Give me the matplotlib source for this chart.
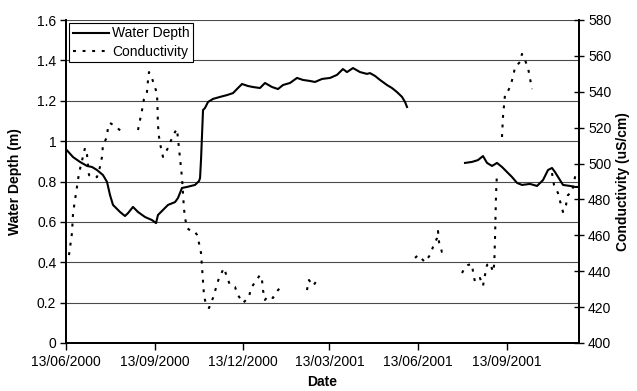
import numpy as np
import matplotlib
matplotlib.use("Agg")
import matplotlib.pyplot as plt
import matplotlib.dates as mdates
from matplotlib.ticker import FuncFormatter
from datetime import datetime

plt.rcParams["font.family"] = ["Liberation Sans", "DejaVu Sans"]

# Days since 13/06/2000 and water depth (m); NaN marks missing records
depth_day = [0.7, 7.3, 14.5, 21.8, 26.9, 32.1, 38.3, 42.5, 45.6, 48.7, 56.0, 61.1,
             64.2, 69.4, 74.6, 81.9, 89.1, 93.3, 95.3, 100.5, 105.7, 113.0, 116.0,
             120.2, 125.4, 133.7, 137.8, 138.9, 139.9, 142.0, 144.0, 147.2, 152.3,
             159.6, 166.8, 173.1, 178.2, 182.4, 188.6, 193.8, 201.0, 206.2, 213.5,
             219.7, 224.9, 232.1, 239.4, 245.6, 252.8, 258.0, 265.3, 273.6, 280.8,
             287.0, 291.2, 294.3, 297.4, 304.7, 311.9, 315.0, 320.2, 325.4, 332.6,
             337.8, 343.0, 348.2, 351.3, 353.4,
             380.0,
             413.5, 420.7, 426.9, 432.1, 436.3, 441.5, 446.6, 451.8, 457.0, 462.2,
             467.4, 472.5, 480.8, 488.1, 494.3, 499.5, 503.6, 506.7, 511.9, 515.0,
             522.3, 527.5, 531.6]
depth_m = [0.956, 0.921, 0.897, 0.877, 0.872, 0.857, 0.832, 0.798, 0.733, 0.684, 0.649, 0.629,
           0.643, 0.674, 0.649, 0.624, 0.609, 0.594, 0.634, 0.659, 0.684, 0.698, 0.718,
           0.768, 0.773, 0.783, 0.802, 0.817, 0.906, 1.154, 1.164, 1.194, 1.209,
           1.219, 1.228, 1.238, 1.263, 1.283, 1.273, 1.268, 1.263, 1.288, 1.268,
           1.258, 1.278, 1.288, 1.313, 1.303, 1.298, 1.293, 1.308, 1.313, 1.328,
           1.357, 1.342, 1.352, 1.362, 1.342, 1.333, 1.337, 1.323, 1.303, 1.278,
           1.263, 1.243, 1.219, 1.194, 1.169,
           np.nan,
           0.892, 0.897, 0.906, 0.926, 0.892, 0.877, 0.892, 0.872, 0.847, 0.822,
           0.793, 0.783, 0.788, 0.778, 0.807, 0.857, 0.867, 0.847, 0.807, 0.783,
           0.778, 0.773, 0.773]

# Days since 13/06/2000 and conductivity (uS/cm); NaN marks missing records
cond_day = [3.1, 6.2, 7.3, 11.4, 13.5, 19.7, 21.8, 23.8, 28.0, 32.1, 35.2, 37.3, 38.3,
            42.5, 43.5, 45.6, 50.8, 57.0,
            65.0,
            74.6, 76.7, 78.8, 80.8, 83.9, 85.0, 86.0, 89.1, 91.2, 94.3, 94.8, 95.3,
            96.4, 98.4, 100.5, 105.7, 109.8, 113.0, 115.0, 116.0, 117.1, 118.1, 119.2,
            120.2, 121.2, 122.2, 123.2, 125.4, 130.6, 133.7, 135.8, 137.8, 139.9,
            140.9, 142.0, 143.0, 145.1, 148.2, 152.3, 155.4, 158.5, 163.7, 166.8,
            169.9, 175.1, 178.2, 183.4, 189.6, 191.7, 201.0, 203.1, 204.1, 206.2,
            209.3, 214.5, 219.7, 224.9,
            237.0,
            249.7, 251.8, 256.0, 261.1,
            310.0,
            361.7, 364.8, 372.0, 377.2, 380.3, 384.5, 385.5, 386.5, 389.6, 390.7,
            400.0,
            410.4, 413.5, 416.6, 420.7, 421.8, 423.8, 429.0, 432.1, 434.2, 436.3,
            439.4, 442.5, 443.5, 444.0, 444.6, 445.1, 445.6, 446.6,
            449.0,
            451.8, 452.8, 454.9, 456.0, 460.1, 463.2, 465.3, 470.5, 472.5, 475.6,
            478.8, 480.8, 482.9,
            493.0,
            503.6, 505.7, 509.8, 513.0, 515.0, 518.1, 520.2, 524.4, 526.4, 528.5]
cond_us = [449.0, 461.3, 472.4, 486.9, 494.7, 508.7, 504.8, 493.6, 492.0, 492.5, 498.1, 503.7, 510.3,
           514.8, 520.4, 522.6, 520.9, 518.1,
           np.nan,
           518.7, 524.3, 529.8, 536.0, 539.9, 546.6, 551.0, 547.7, 543.8, 539.3, 531.5, 521.5,
           514.8, 508.7, 503.7, 508.7, 514.2, 517.6, 519.3, 514.2, 508.7, 503.1, 497.5,
           492.0, 483.6, 475.2, 470.2, 464.1, 461.9, 461.9, 460.2, 455.7, 450.2,
           442.4, 433.4, 426.7, 421.2, 419.5, 425.1, 430.6, 436.2, 441.8, 436.8,
           432.3, 431.2, 426.7, 422.3, 425.6, 430.6, 437.9, 435.1, 429.5, 424.0,
           426.2, 425.1, 429.5, 432.3,
           np.nan,
           429.5, 435.1, 431.8, 435.7,
           np.nan,
           447.4, 449.0, 445.1, 449.0, 453.5, 458.5, 462.4, 456.3, 450.7, 450.7,
           np.nan,
           439.0, 442.4, 443.5, 444.0, 439.6, 434.0, 436.2, 431.8, 437.9, 443.5,
           444.6, 439.6, 442.9, 447.9, 459.1, 471.3, 482.5, 494.7,
           np.nan,
           514.8, 525.9, 538.2, 538.2, 542.7, 548.2, 553.8, 556.6, 561.1, 557.7,
           553.3, 547.7, 541.5,
           np.nan,
           494.7, 488.1, 483.6, 476.9, 473.0, 476.9, 482.5, 484.1, 489.7, 495.3]

date_ticks = ["13/06/2000", "13/09/2000", "13/12/2000", "13/03/2001", "13/06/2001", "13/09/2001"]
depth_ticks = [0, 0.2, 0.4, 0.6, 0.8, 1.0, 1.2, 1.4, 1.6]
cond_ticks = [400, 420, 440, 460, 480, 500, 520, 540, 560, 580]

t0 = mdates.date2num(datetime(2000, 6, 13))
x_depth = t0 + np.array(depth_day)
x_cond = t0 + np.array(cond_day)
tick_pos = [mdates.date2num(datetime.strptime(s, "%d/%m/%Y")) for s in date_ticks]

fig = plt.figure(figsize=(6.37, 3.91), dpi=100)
ax = fig.add_axes([66 / 637, 48 / 391, 513 / 637, 323 / 391])
ax2 = ax.twinx()

# horizontal gridlines
for v in depth_ticks[1:]:
    ax.axhline(v, color="#4a4a4a", lw=0.8, zorder=0)

l1, = ax.plot(x_depth, depth_m, color="black", lw=1.5, solid_joinstyle="round",
              label="Water Depth", zorder=3)
l2, = ax2.plot(x_cond, cond_us, color="black", lw=1.5,
               linestyle=(0, (1.4, 3.2)), label="Conductivity", zorder=3)

ax.set_xlim(t0, t0 + 531.6)
ax.set_ylim(0, 1.6)
ax2.set_ylim(400, 580)

ax.set_xticks(tick_pos)
ax.set_xticklabels(date_ticks)
ax.set_yticks(depth_ticks)
ax.yaxis.set_major_formatter(FuncFormatter(lambda v, p: "%g" % v))
ax2.set_yticks(cond_ticks)

for sp in ["left", "bottom", "right"]:
    ax.spines[sp].set_linewidth(1.3)
    ax2.spines[sp].set_linewidth(1.3)
ax.spines["top"].set_visible(False)
ax2.spines["top"].set_visible(False)

ax.tick_params(axis="y", direction="out", length=4, width=1, labelsize=10, pad=3)
ax.tick_params(axis="x", direction="out", length=5, width=1, labelsize=10, pad=4)
ax2.tick_params(axis="y", direction="inout", length=7, width=1, labelsize=10, pad=3)

ax.set_xlabel("Date", fontsize=10, fontweight="bold")
ax.set_ylabel("Water Depth (m)", fontsize=10, fontweight="bold")
ax2.set_ylabel("Conductivity (uS/cm)", fontsize=10, fontweight="bold", rotation=90)
ax.xaxis.set_label_coords(0.5, -0.098)
ax.yaxis.set_label_coords(-0.085, 0.5)
ax2.yaxis.set_label_coords(1.073, 0.5)

leg = ax2.legend(handles=[l1, l2], loc="upper left", bbox_to_anchor=(0.006, 0.991),
                 borderaxespad=0, fontsize=10, frameon=True, fancybox=False,
                 framealpha=1, edgecolor="black", handlelength=2.6,
                 handletextpad=0.25, labelspacing=0.3, borderpad=0.25)
leg.get_frame().set_linewidth(0.8)

fig.savefig("out.png", dpi=100)
